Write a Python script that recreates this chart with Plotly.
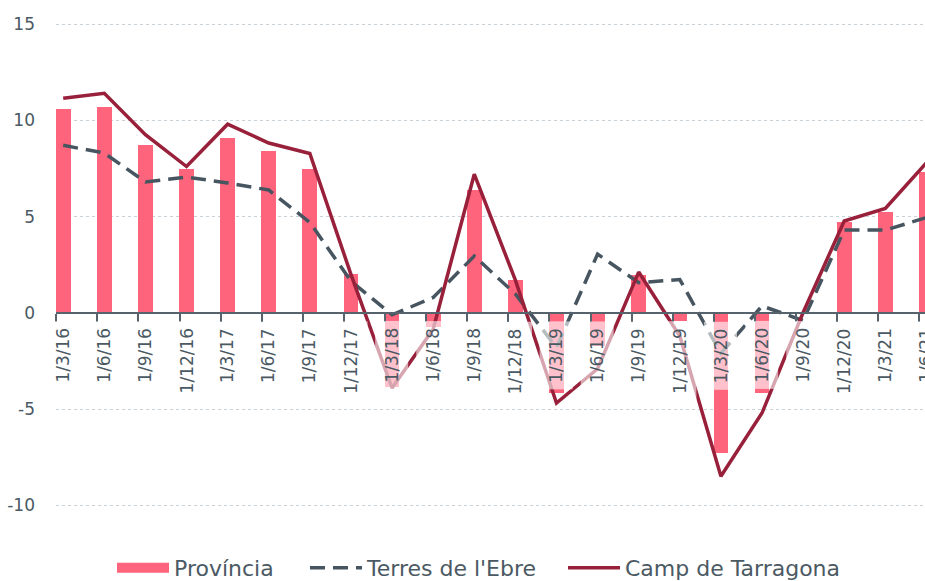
import plotly.graph_objects as go

labels = ['1/3/16', '1/6/16', '1/9/16', '1/12/16', '1/3/17', '1/6/17', '1/9/17', '1/12/17',
          '1/3/18', '1/6/18', '1/9/18', '1/12/18', '1/3/19', '1/6/19', '1/9/19', '1/12/19',
          '1/3/20', '1/6/20', '1/9/20', '1/12/20', '1/3/21', '1/6/21']
provincia = [10.6, 10.7, 8.7, 7.45, 9.1, 8.4, 7.45, 2.0, -3.85, -0.72, 6.37, 1.72,
             -4.15, -1.7, 1.97, -0.42, -7.25, -4.15, 0.0, 4.73, 5.25, 7.3]
terres = [8.7, 8.3, 6.8, 7.05, 6.75, 6.38, 4.7, 1.65, -0.1, 0.8, 2.95, 0.98,
          -1.8, 3.05, 1.57, 1.73, -2.1, 0.36, -0.4, 4.3, 4.3, 4.95]
camp = [11.15, 11.4, 9.25, 7.6, 9.8, 8.82, 8.28, 2.0, -3.9, -0.85, 7.2, 1.7,
        -4.68, -2.9, 2.12, -1.2, -8.48, -5.2, 0.02, 4.77, 5.42, 7.8]
y_ticks = [-10, -5, 0, 5, 10, 15]
y_ticktext = ['-10', '-5', '0', '5', '10', '15']

PINK = '#FF647D'
SLATE = '#46555F'
CRIMSON = '#98203A'
TEXT = '#4B5963'
FONT = 'DejaVu Sans'

# The chart is wider than the window: the last category is cut at the right edge.
FIG_W, FIG_H = 947, 589
M_L, M_T, M_B = 56, 14, 38
x_range = [-0.175, 21.5]
y_range = [-12.26, 15.52]
zero_pos = (0 - y_range[0]) / (y_range[1] - y_range[0])
plot_h = FIG_H - M_T - M_B
plot_w = FIG_W - M_L

xs = list(range(len(labels)))

fig = go.Figure()
fig.add_trace(go.Bar(x=xs, y=provincia, name='Província', marker=dict(color=PINK, line=dict(width=0)),
                     width=0.36, showlegend=False))
# legend proxy for the bar series (wide swatch)
fig.add_trace(go.Scatter(x=[None], y=[None], mode='lines', name='Província',
                         line=dict(color=PINK, width=14), legend='legend'))
fig.add_trace(go.Scatter(x=xs, y=terres, mode='lines', name="Terres de l'Ebre",
                         line=dict(color=SLATE, width=3.5, dash='15px,8px'), legend='legend2'))
fig.add_trace(go.Scatter(x=xs, y=camp, mode='lines', name='Camp de Tarragona',
                         line=dict(color=CRIMSON, width=3.5), legend='legend3'))

for i, lab in enumerate(labels):
    fig.add_annotation(x=i, y=0, xref='x', yref='y', text=lab, showarrow=False,
                       textangle=-90, xanchor='center', yanchor='top', yshift=-8,
                       bgcolor='rgba(255,255,255,0.6)', borderpad=6,
                       font=dict(family=FONT, size=17, color=TEXT))

legend_y = (FIG_H - M_B - 570) / plot_h


def leg(px):
    return dict(orientation='h', x=(px - M_L) / plot_w, xanchor='left',
                y=legend_y, yanchor='middle', itemwidth=52,
                font=dict(family=FONT, size=22, color=TEXT), bgcolor='rgba(0,0,0,0)')


fig.update_layout(
    width=FIG_W, height=FIG_H, autosize=False,
    margin=dict(l=M_L, r=0, t=M_T, b=M_B),
    paper_bgcolor='white', plot_bgcolor='white',
    font=dict(family=FONT, color=TEXT, size=17),
    bargap=0,
    legend=leg(112), legend2=leg(305), legend3=leg(563),
    xaxis=dict(range=x_range, showgrid=False, zeroline=False, automargin=False,
               tickmode='array', tickvals=[i - 0.17 for i in xs], showticklabels=False,
               ticks='outside', ticklen=8, tickwidth=2, tickcolor='#56636C',
               showline=True, linecolor='#56636C', linewidth=2,
               anchor='free', position=zero_pos),
    yaxis=dict(range=y_range, tickmode='array', tickvals=y_ticks, ticktext=y_ticktext,
               showline=False, automargin=False,
               zeroline=False, showgrid=True, gridcolor='#C9D2D8', griddash='dot', gridwidth=1,
               tickfont=dict(family=FONT, size=17, color=TEXT), ticklabelstandoff=20),
)

fig.write_html('out.html', config={'displayModeBar': False},
               post_script="document.body.style.margin='0px';document.body.style.overflow='hidden';")
